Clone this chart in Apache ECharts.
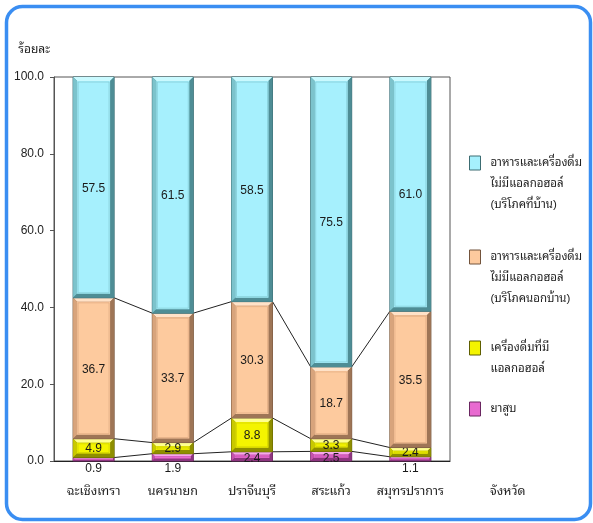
<!DOCTYPE html>
<html><head><meta charset="utf-8">
<script src="https://cdn.jsdelivr.net/npm/echarts@6/dist/echarts.min.js"></script>
<style>html,body{margin:0;padding:0;background:#fff}#c{width:593px;height:523px}</style>
</head><body><div id="c"></div>
<script>
// ---- data ----
const categories = ['ฉะเชิงเทรา', 'นครนายก', 'ปราจีนบุรี', 'สระแก้ว', 'สมุทรปราการ'];
const tobacco  = [0.9, 1.9, 2.4, 2.5, 1.1];
const alcohol  = [4.9, 2.9, 8.8, 3.3, 2.4];
const foodOut  = [36.7, 33.7, 30.3, 18.7, 35.5];
const foodHome = [57.5, 61.5, 58.5, 75.5, 61.0];
const seriesNames = [
  'ยาสูบ',
  'เครื่องดื่มที่มี\nแอลกอฮอล์',
  'อาหารและเครื่องดื่ม\nไม่มีแอลกอฮอล์\n(บริโภคนอกบ้าน)',
  'อาหารและเครื่องดื่ม\nไม่มีแอลกอฮอล์\n(บริโภคที่บ้าน)'
];
const yAxisName = 'ร้อยละ';
const xAxisName = 'จังหวัด';

// ---- styles ----
const FONT = '"Liberation Sans", "Noto Sans Thai Looped", sans-serif';
const palettes = [
  {face:'#e86ad0', light:'#f6a8ea', mid:'#c452ac', dark:'#8e3680', outline:'#6a2660'},
  {face:'#f4f400', light:'#ffff90', mid:'#c9c900', dark:'#8e8e00', outline:'#5f5f00'},
  {face:'#fdca9e', light:'#ffe2c8', mid:'#d8a47c', dark:'#9e7556', outline:'#73543c'},
  {face:'#a6f0fd', light:'#cafaff', mid:'#7cc3cc', dark:'#4e8d95', outline:'#3c6c72'}
];
const BAR_W = 41;
const values = [tobacco, alcohol, foodOut, foodHome];

// cumulative stacks
const cum = values.map(() => []);
categories.forEach((c, i) => {
  let s = 0;
  values.forEach((arr, k) => { cum[k][i] = [s, s + arr[i]]; s += arr[i]; });
});

function barRender(k) {
  const pal = palettes[k];
  return function (params, api) {
    const i = api.value(0), b = api.value(1), t = api.value(2), v = api.value(3);
    const p0 = api.coord([i, b]), p1 = api.coord([i, t]);
    const w = BAR_W, x = p0[0] - w / 2, y = p1[1], h = p0[1] - p1[1];
    const e = Math.min(4, h / 3);
    const kids = [
      {type:'rect', shape:{x, y, width:w, height:h}, style:{fill:pal.dark, stroke:pal.outline, lineWidth:1}},
      {type:'polygon', shape:{points:[[x,y],[x+w,y],[x+w-e,y+e],[x+e,y+e]]}, style:{fill:pal.light}},
      {type:'polygon', shape:{points:[[x,y],[x+e,y+e],[x+e,y+h-e],[x,y+h]]}, style:{fill:pal.mid}},
      {type:'polygon', shape:{points:[[x+w,y],[x+w,y+h],[x+w-e,y+h-e],[x+w-e,y+e]]}, style:{fill:pal.dark}},
      {type:'polygon', shape:{points:[[x,y+h],[x+w,y+h],[x+w-e,y+h-e],[x+e,y+h-e]]}, style:{fill:pal.dark}},
      {type:'rect', shape:{x:x+e, y:y+e, width:w-2*e, height:Math.max(0,h-2*e)}, style:{fill:pal.face}}
    ];
    if (h > 8) {
      kids.push({type:'rect', shape:{x:x+e+1, y:y+e+1, width:w-2*e-2, height:Math.max(0,h-2*e-2)},
        style:{fill:'none', stroke:pal.mid, lineWidth:1, opacity:0.6}});
    }
    const below = (k === 0 && v < 2);
    kids.push({type:'text', style:{
      text: v.toFixed(1), x: p0[0], y: below ? p0[1] + 2 : y + h / 2 + (k === 0 ? 2 : 1),
      align:'center', verticalAlign: below ? 'top' : 'middle',
      font: '12px ' + FONT, fill:'#1a1a1a'}});
    return {type:'group', children:kids};
  };
}

const barSeries = values.map((arr, k) => ({
  type:'custom', name: seriesNames[k], z: 3,
  itemStyle:{color: palettes[k].face, borderColor: palettes[k].outline},
  encode:{x:0, y:[1,2]},
  data: categories.map((c, i) => [i, cum[k][i][0], cum[k][i][1], arr[i]]),
  renderItem: barRender(k)
}));

// series lines between bar tops
const lineData = [];
for (let i = 0; i < categories.length - 1; i++) {
  lineData.push([i, cum[0][i][1], cum[1][i][1], cum[2][i][1], cum[0][i+1][1], cum[1][i+1][1], cum[2][i+1][1]]);
}
const lineSeries = {
  type:'custom', name:'_lines', z: 2, silent:true,
  encode:{x:0, y:[1,2,3]},
  data: lineData,
  renderItem(params, api) {
    const i = api.value(0);
    const kids = [];
    for (let k = 0; k < 3; k++) {
      const a = api.coord([i, api.value(1 + k)]);
      const b = api.coord([i + 1, api.value(4 + k)]);
      kids.push({type:'line', shape:{x1:a[0] + BAR_W/2, y1:a[1], x2:b[0] - BAR_W/2, y2:b[1]},
        style:{stroke:'#222', lineWidth:1}});
    }
    return {type:'group', children:kids};
  }
};

// legends: icon aligned with first text line (leading blank lines)
const LH = 21;
const legendCenters = [409, 348, 257, 163];
const legends = seriesNames.map((name, k) => {
  const n = name.split('\n').length;
  const total = 2 * n - 1;
  return {
    show:true, left: 469, top: legendCenters[k] - total * LH / 2, padding:0,
    itemWidth: 11, itemHeight: 14, selectedMode:false,
    formatter: nm => '\n'.repeat(n - 1) + nm,
    data:[{name, icon:'rect', itemStyle:{color:palettes[k].face, borderColor:palettes[k].outline, borderWidth:1}}],
    textStyle:{fontSize:11.5, lineHeight:LH, color:'#222', fontFamily:FONT, padding:[0,0,0,5]}
  };
});

const chart = echarts.init(document.getElementById('c'), null, {renderer:'canvas'});
chart.setOption({
  animation:false,
  backgroundColor:'#fff',
  textStyle:{fontFamily:FONT},
  graphic:[{type:'rect', shape:{x:6.5, y:6.5, width:584, height:513, r:16},
    style:{fill:'none', stroke:'#3a8ef2', lineWidth:3.5}, z:100}],
  grid:{left:54, right:143, top:77, bottom:62, show:true, borderColor:'#555', borderWidth:1},
  legend: legends,
  xAxis:{type:'category', data:categories,
    axisLine:{lineStyle:{color:'#222', width:1}}, axisTick:{show:false},
    axisLabel:{fontSize:12.5, color:'#222', margin:24, interval:0, hideOverlap:false, fontFamily:FONT},
    name:xAxisName, nameLocation:'end', nameGap:40,
    nameTextStyle:{fontSize:12.5, color:'#222', align:'left', verticalAlign:'top', lineHeight:62, fontFamily:FONT}},
  yAxis:{type:'value', min:0, max:100, interval:20,
    axisLine:{show:true, lineStyle:{color:'#555'}}, axisTick:{show:true, length:4, lineStyle:{color:'#555'}},
    splitLine:{show:false},
    axisLabel:{fontSize:12, color:'#222', margin:10, formatter:v => v.toFixed(1), fontFamily:FONT},
    name:yAxisName, nameLocation:'end', nameGap:27,
    nameTextStyle:{fontSize:12, color:'#222', align:'right', verticalAlign:'middle', padding:[0,4,0,0], fontFamily:FONT}},
  series:[lineSeries, ...barSeries]
});
</script></body></html>
